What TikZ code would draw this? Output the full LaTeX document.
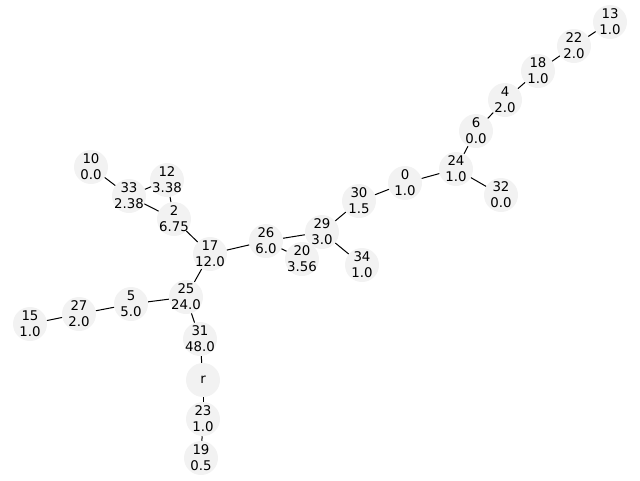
\documentclass[tikz,border=0pt]{standalone}
\usepackage{fontspec}
\setmainfont{DejaVu Sans}
\begin{document}
\begin{tikzpicture}[x=0.75pt,y=-0.75pt,
  vtx/.style={circle,fill=black!5,draw=none,minimum size=25.5pt,inner sep=0pt},
  lbl/.style={align=center,font=\fontsize{10pt}{12pt}\selectfont,inner sep=0pt},
  edge/.style={draw=black,line width=0.75pt}]
\useasboundingbox (0,0) rectangle (640,480);
\foreach \n/\x/\y/\t in {
  13/610/22/{13\\1.0}, 22/574/46/{22\\2.0}, 18/538/71/{18\\1.0},
  4/505/100/{4\\2.0}, 6/476/131/{6\\0.0}, 24/456/169/{24\\1.0},
  32/501/195/{32\\0.0}, 0/405/183/{0\\1.0}, 30/359/201/{30\\1.5},
  29/322/232/{29\\3.0}, 34/362/265/{34\\1.0}, 20/302/259/{20\\3.56},
  26/266/241/{26\\6.0}, 17/210/254/{17\\12.0}, 2/174/219/{2\\6.75},
  12/167/180/{12\\3.38}, 33/129/196/{33\\2.38}, 10/91/167/{10\\0.0},
  25/186/297/{25\\24.0}, 5/131/304/{5\\5.0}, 27/79/314/{27\\2.0},
  15/30/324/{15\\1.0}, 31/200/339/{31\\48.0}, r/203/380/{r},
  23/203/419/{23\\1.0}, 19/201/458/{19\\0.5}}
  {\node[vtx,label={[lbl]center:\t}] (n\n) at (\x,\y) {};}
\foreach \a/\b in {13/22,22/18,18/4,4/6,6/24,24/32,24/0,0/30,30/29,29/34,
  29/26,26/20,26/17,17/2,2/12,2/33,33/12,33/10,17/25,25/5,5/27,27/15,
  25/31,31/r,r/23,23/19}
  {\draw[edge] (n\a) -- (n\b);}
\end{tikzpicture}
\end{document}
